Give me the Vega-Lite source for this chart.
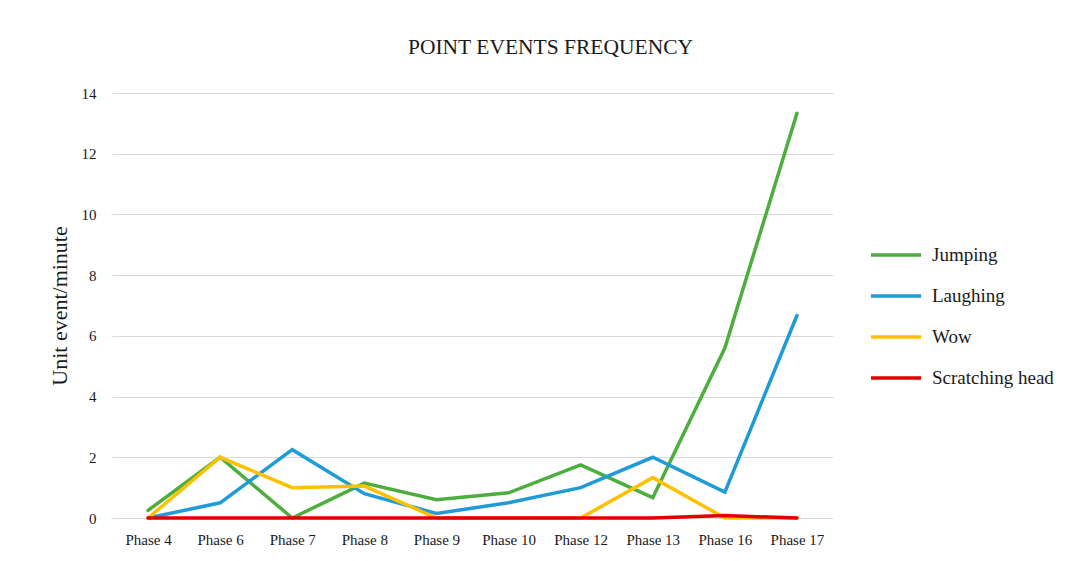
{
  "$schema": "https://vega.github.io/schema/vega-lite/v6.json",
  "width": 721,
  "height": 425,
  "autosize": {"type": "none"},
  "padding": {"left": 112, "top": 93, "right": 245, "bottom": 43},
  "background": "white",
  "config": {
    "view": {"stroke": null},
    "font": "Liberation Serif"
  },
  "title": {
    "text": "POINT EVENTS FREQUENCY",
    "anchor": "middle",
    "frame": "group",
    "dx": 78,
    "offset": 28,
    "fontSize": 21.5,
    "fontWeight": "normal",
    "color": "#1a1a1a",
    "font": "Liberation Serif"
  },
  "data": {
    "values": [
      {"phase": "Phase 4", "series": "Jumping", "value": 0.25},
      {"phase": "Phase 6", "series": "Jumping", "value": 2.0},
      {"phase": "Phase 7", "series": "Jumping", "value": 0.0},
      {"phase": "Phase 8", "series": "Jumping", "value": 1.15},
      {"phase": "Phase 9", "series": "Jumping", "value": 0.6},
      {"phase": "Phase 10", "series": "Jumping", "value": 0.83},
      {"phase": "Phase 12", "series": "Jumping", "value": 1.75},
      {"phase": "Phase 13", "series": "Jumping", "value": 0.67},
      {"phase": "Phase 16", "series": "Jumping", "value": 5.6},
      {"phase": "Phase 17", "series": "Jumping", "value": 13.33},
      {"phase": "Phase 4", "series": "Laughing", "value": 0.0},
      {"phase": "Phase 6", "series": "Laughing", "value": 0.5},
      {"phase": "Phase 7", "series": "Laughing", "value": 2.25},
      {"phase": "Phase 8", "series": "Laughing", "value": 0.8},
      {"phase": "Phase 9", "series": "Laughing", "value": 0.15},
      {"phase": "Phase 10", "series": "Laughing", "value": 0.5},
      {"phase": "Phase 12", "series": "Laughing", "value": 1.0},
      {"phase": "Phase 13", "series": "Laughing", "value": 2.0},
      {"phase": "Phase 16", "series": "Laughing", "value": 0.85},
      {"phase": "Phase 17", "series": "Laughing", "value": 6.67},
      {"phase": "Phase 4", "series": "Wow", "value": 0.0},
      {"phase": "Phase 6", "series": "Wow", "value": 2.0},
      {"phase": "Phase 7", "series": "Wow", "value": 1.0},
      {"phase": "Phase 8", "series": "Wow", "value": 1.05},
      {"phase": "Phase 9", "series": "Wow", "value": 0.0},
      {"phase": "Phase 10", "series": "Wow", "value": 0.0},
      {"phase": "Phase 12", "series": "Wow", "value": 0.0},
      {"phase": "Phase 13", "series": "Wow", "value": 1.33},
      {"phase": "Phase 16", "series": "Wow", "value": 0.0},
      {"phase": "Phase 17", "series": "Wow", "value": 0.0},
      {"phase": "Phase 4", "series": "Scratching head", "value": 0.0},
      {"phase": "Phase 6", "series": "Scratching head", "value": 0.0},
      {"phase": "Phase 7", "series": "Scratching head", "value": 0.0},
      {"phase": "Phase 8", "series": "Scratching head", "value": 0.0},
      {"phase": "Phase 9", "series": "Scratching head", "value": 0.0},
      {"phase": "Phase 10", "series": "Scratching head", "value": 0.0},
      {"phase": "Phase 12", "series": "Scratching head", "value": 0.0},
      {"phase": "Phase 13", "series": "Scratching head", "value": 0.0},
      {"phase": "Phase 16", "series": "Scratching head", "value": 0.08},
      {"phase": "Phase 17", "series": "Scratching head", "value": 0.0}
    ]
  },
  "mark": {"type": "line", "strokeWidth": 3.5, "strokeCap": "round", "strokeJoin": "miter"},
  "encoding": {
    "x": {
      "field": "phase",
      "type": "ordinal",
      "sort": ["Phase 4", "Phase 6", "Phase 7", "Phase 8", "Phase 9", "Phase 10", "Phase 12", "Phase 13", "Phase 16", "Phase 17"],
      "scale": {"type": "point", "padding": 0.5},
      "axis": {
        "title": null,
        "labelAngle": 0,
        "labelFontSize": 15,
        "labelColor": "#1a1a1a",
        "labelPadding": 14,
        "ticks": false,
        "domain": false,
        "grid": false
      }
    },
    "y": {
      "field": "value",
      "type": "quantitative",
      "scale": {"domain": [0, 14], "nice": false},
      "axis": {
        "title": "Unit event/minute",
        "titleFontSize": 22,
        "titleFontWeight": "normal",
        "titleColor": "#1a1a1a",
        "titlePadding": 10,
        "values": [0, 2, 4, 6, 8, 10, 12, 14],
        "labelFontSize": 15,
        "labelColor": "#1a1a1a",
        "labelPadding": 16,
        "ticks": false,
        "domain": false,
        "grid": true,
        "gridColor": "#d9d9d9",
        "gridWidth": 1.2
      }
    },
    "color": {
      "field": "series",
      "type": "nominal",
      "sort": ["Jumping", "Laughing", "Wow", "Scratching head"],
      "scale": {
        "domain": ["Jumping", "Laughing", "Wow", "Scratching head"],
        "range": ["#4CAE3C", "#1F9BD7", "#FFC000", "#E00000"]
      },
      "legend": {
        "title": null,
        "orient": "none",
        "legendX": 757,
        "legendY": 135,
        "symbolType": "stroke",
        "symbolSize": 2500,
        "symbolStrokeWidth": 3.5,
        "labelFontSize": 19,
        "labelColor": "#1a1a1a",
        "labelOffset": 9,
        "rowPadding": 4
      }
    },
    "order": {"field": "series"}
  }
}
